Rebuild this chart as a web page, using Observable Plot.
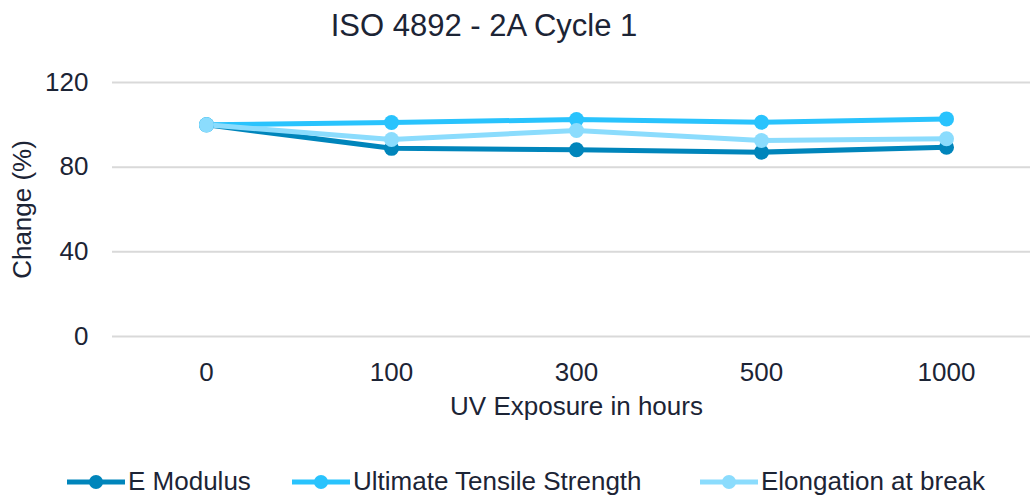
<!DOCTYPE html>
<html>
<head>
<meta charset="utf-8">
<script src="https://cdn.jsdelivr.net/npm/d3@7"></script>
<script src="https://cdn.jsdelivr.net/npm/@observablehq/plot@0.6"></script>
<style>
  html, body { margin: 0; padding: 0; background: #fff; }
  body { width: 1030px; height: 497px; position: relative; overflow: hidden;
         font-family: "Liberation Sans", Arial, sans-serif; color: #1c2435; }
  #title { position: absolute; left: 0; top: 8px; width: 968px; text-align: center; font-size: 31px; }
  #chart { position: absolute; left: 0; top: 50px; }
  #legend { position: absolute; left: 0; top: 466px; width: 1030px; height: 30px; }
  .item { position: absolute; top: 0; display: flex; align-items: center; font-size: 26px; white-space: nowrap; }
  .item svg { margin-right: 3px; }
</style>
</head>
<body>
<div id="title">ISO 4892 - 2A Cycle 1</div>
<div id="chart"></div>
<div id="legend"></div>
<script>
const hours = ["0", "100", "300", "500", "1000"];
const seriesNames = ["E Modulus", "Ultimate Tensile Strength", "Elongation at break"];
const eModulus = [100, 88.9, 88.2, 87.1, 89.4];
const tensile = [100, 101.1, 102.5, 101.2, 102.8];
const elongation = [100, 93.1, 97.3, 92.6, 93.4];
const yTicks = [0, 40, 80, 120];
const colors = ["#0085bb", "#29c3fd", "#8bdcfd"];

const allValues = [eModulus, tensile, elongation];
const data = [];
seriesNames.forEach((s, i) => hours.forEach((h, j) => data.push({series: s, hour: h, value: allValues[i][j]})));

const ink = "#1c2435";
const chart = Plot.plot({
  width: 1030,
  height: 400,
  marginLeft: 112,
  marginRight: 0,
  marginTop: 32,
  marginBottom: 114,
  style: {fontFamily: "'Liberation Sans', Arial, sans-serif", color: ink, background: "transparent"},
  x: {type: "point", domain: hours, range: [204, 947], padding: 0},
  y: {domain: [0, 120], ticks: yTicks},
  color: {domain: seriesNames, range: colors},
  marks: [
    Plot.gridY(yTicks, {stroke: "#d9d9d9", strokeOpacity: 1, strokeWidth: 2}),
    Plot.axisY(yTicks, {tickSize: 0, tickPadding: 24, fontSize: 26, label: null, fill: ink}),
    Plot.axisX({tickSize: 0, tickPadding: 26, fontSize: 26, label: null, fill: ink}),
    Plot.text(["Change (%)"], {frameAnchor: "left", textAnchor: "middle", dx: -90, rotate: -90, fontSize: 26, fill: ink}),
    Plot.text(["UV Exposure in hours"], {frameAnchor: "bottom", dx: 5, dy: 78, fontSize: 26, fill: ink}),
    Plot.line(data, {x: "hour", y: "value", z: "series", stroke: "series", strokeWidth: 5}),
    Plot.dot(data, {x: "hour", y: "value", fill: "series", r: 7.5})
  ]
});
document.getElementById("chart").appendChild(chart);

const legendPos = [67, 292, 700];
const legend = document.getElementById("legend");
seriesNames.forEach((s, i) => {
  const div = document.createElement("div");
  div.className = "item";
  div.style.left = legendPos[i] + "px";
  div.innerHTML = `<svg width="58" height="30"><line x1="0" y1="15" x2="58" y2="15" stroke="${colors[i]}" stroke-width="5"/><circle cx="29" cy="15" r="7" fill="${colors[i]}"/></svg><span>${s}</span>`;
  legend.appendChild(div);
});
</script>
</body>
</html>
